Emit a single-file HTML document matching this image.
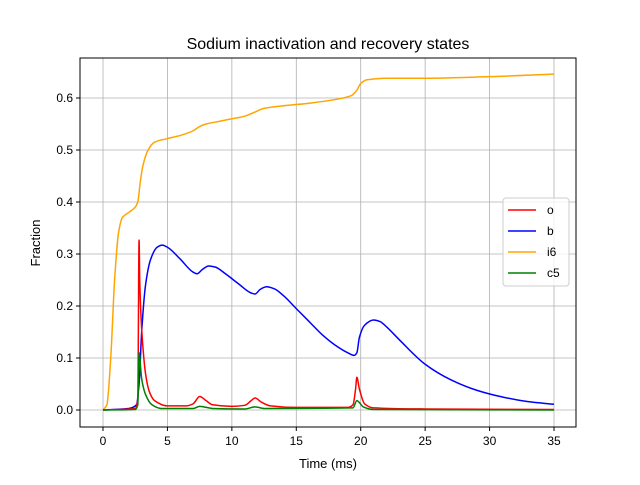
<!DOCTYPE html>
<html><head><meta charset="utf-8"><style>
body{margin:0;background:#fff;}
svg{font-family:"Liberation Sans","DejaVu Sans",sans-serif;}
</style></head><body>
<svg id="chart" width="640" height="480">
<rect x="0" y="0" width="640" height="480" fill="#fff"/>
<text x="328" y="49" font-size="16" text-anchor="middle">Sodium inactivation and recovery states</text>
<g id="grid"></g>
<g id="lines"></g>
<rect x="80" y="58" width="496" height="369" fill="none" stroke="#000" stroke-width="1"/>
<g id="ticks"></g>
<text x="328" y="468" font-size="13" text-anchor="middle">Time (ms)</text>
<text x="40" y="243" font-size="13" text-anchor="middle" transform="rotate(-90 40 243)">Fraction</text>
<g id="legend"></g>
</svg>
<script>
const xTicks=[0,5,10,15,20,25,30,35];
const yTicks=[0.0,0.1,0.2,0.3,0.4,0.5,0.6];
const seriesNames=["o","b","i6","c5"];
const seriesColors=["red","blue","orange","green"];
const tO=[0,2.5,2.7,2.8,2.85,2.95,3.1,3.3,3.6,4,5,6.5,7,7.5,8,8.5,10,11,11.5,11.8,12.3,13,15,19,19.4,19.6,19.7,19.9,20.3,21,25,35];
const vO=[0,0.003,0.02,0.327,0.25,0.18,0.12,0.07,0.035,0.018,0.008,0.008,0.012,0.026,0.018,0.01,0.007,0.009,0.018,0.023,0.015,0.008,0.005,0.005,0.01,0.04,0.063,0.04,0.012,0.004,0.002,0.001];
const tB=[0,2,2.6,2.8,3,3.3,3.7,4.2,4.6,5,6,7,7.3,7.7,8.2,8.7,9.5,10.5,11.5,11.8,12.2,12.7,13.3,14,15,16,17,18,19,19.5,19.7,19.9,20.3,21,21.5,22,23,25,27,29,31,33,35];
const vB=[0,0.003,0.01,0.05,0.15,0.24,0.29,0.313,0.317,0.313,0.29,0.265,0.262,0.27,0.277,0.275,0.262,0.243,0.225,0.223,0.232,0.237,0.233,0.22,0.195,0.17,0.145,0.125,0.11,0.105,0.11,0.14,0.163,0.173,0.17,0.16,0.135,0.088,0.058,0.038,0.025,0.016,0.011];
const tI=[0,0.3,0.6,0.9,1.2,1.5,2,2.5,2.7,2.9,3.1,3.5,4,5,6,7,7.5,8,9,10,11,11.7,12.5,14,16,18,19.3,19.7,20,20.5,22,25,30,35];
const vI=[0,0.01,0.1,0.25,0.34,0.37,0.38,0.39,0.40,0.44,0.47,0.50,0.515,0.522,0.528,0.537,0.545,0.55,0.555,0.56,0.565,0.572,0.58,0.585,0.59,0.597,0.605,0.615,0.628,0.635,0.638,0.638,0.641,0.646];
const tC=[0,2.5,2.7,2.8,3,3.3,3.8,4.5,7,7.5,8.5,11,11.8,12.5,19.4,19.7,20.2,21,35];
const vC=[0,0.001,0.01,0.11,0.06,0.03,0.01,0.003,0.003,0.007,0.003,0.002,0.006,0.003,0.004,0.018,0.006,0.001,0];
const X=t=>103+t*(451/35);
const Y=v=>410-v*520;
const NS="http://www.w3.org/2000/svg";
function mk(tag,attrs,parent){const e=document.createElementNS(NS,tag);for(const k in attrs)e.setAttribute(k,attrs[k]);parent.appendChild(e);return e;}
function monoPath(xs,ys){
 const n=xs.length,d=[],m=[];
 for(let i=0;i<n-1;i++){d.push((ys[i+1]-ys[i])/(xs[i+1]-xs[i]));}
 m[0]=d[0];m[n-1]=d[n-2];
 for(let i=1;i<n-1;i++){ if(d[i-1]*d[i]<=0)m[i]=0; else { const h0=xs[i]-xs[i-1],h1=xs[i+1]-xs[i]; const w1=2*h1+h0,w2=h1+2*h0; m[i]=(w1+w2)/(w1/d[i-1]+w2/d[i]); } }
 let p='M'+xs[0]+','+ys[0];
 for(let i=0;i<n-1;i++){const h=xs[i+1]-xs[i];p+=' C'+(xs[i]+h/3)+','+(ys[i]+m[i]*h/3)+' '+(xs[i+1]-h/3)+','+(ys[i+1]-m[i+1]*h/3)+' '+xs[i+1]+','+ys[i+1];}
 return p;
}
const grid=document.getElementById('grid'),ticks=document.getElementById('ticks');
xTicks.forEach(t=>{
 const g=mk('line',{x1:X(t),x2:X(t),y1:58,y2:427,stroke:'#b0b0b0','stroke-width':0.8},grid);
 
 
 const tk=mk('line',{x1:X(t),x2:X(t),y1:427,y2:431,stroke:'#000'},ticks);
 
 
 const tx=mk('text',{x:X(t),y:445,'font-size':12,'text-anchor':'middle'},ticks);tx.textContent=t;
 
 
});
yTicks.forEach(v=>{
 const g=mk('line',{x1:80,x2:576,y1:Y(v),y2:Y(v),stroke:'#b0b0b0','stroke-width':0.8},grid);
 
 
 const tk=mk('line',{x1:76,x2:80,y1:Y(v),y2:Y(v),stroke:'#000'},ticks);
 
 
 const tx=mk('text',{x:73,y:Y(v)+4,'font-size':12,'text-anchor':'end'},ticks);tx.textContent=v.toFixed(1);
 
 
});
const lines=document.getElementById('lines');
const data=[[tO,vO],[tB,vB],[tI,vI],[tC,vC]];
[2,1,0,3].forEach(i=>{
 const [ts,vs]=data[i];
 const p=mk('path',{d:monoPath(ts.map(X),vs.map(Y)),fill:'none',stroke:seriesColors[i],'stroke-width':1.5,'stroke-linejoin':'round'},lines);
 
 
});
const lg=document.getElementById('legend');
mk('rect',{x:503,y:198,width:66,height:88,rx:3,fill:'#fff','fill-opacity':0.8,stroke:'#ccc'},lg);
seriesNames.forEach((n,i)=>{
 const y=210+i*21;
 const l=mk('line',{x1:508,x2:536,y1:y,y2:y,stroke:seriesColors[i],'stroke-width':1.5},lg);
 
 
 const t=mk('text',{x:547,y:y+4,'font-size':12},lg);t.textContent=n;
 
 
});
</script>
</body></html>
